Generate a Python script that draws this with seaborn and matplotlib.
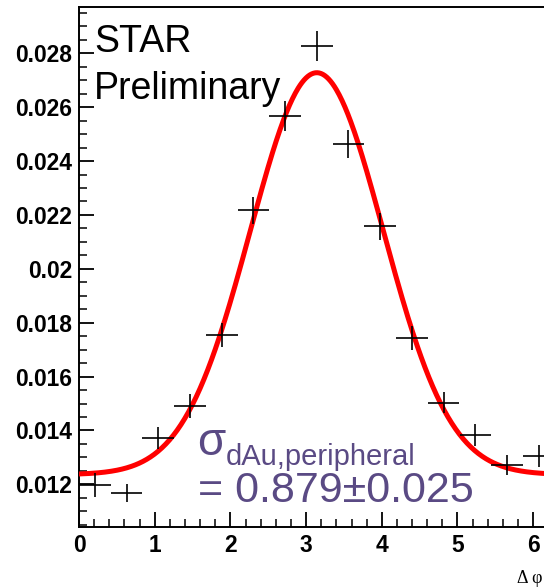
import numpy as np
import pandas as pd
import matplotlib
matplotlib.use("Agg")
import matplotlib.pyplot as plt
import seaborn as sns
from matplotlib.ticker import MultipleLocator, FixedLocator, FuncFormatter

# ---- data ----
dphi = [0.209, 0.628, 1.047, 1.466, 1.885, 2.304, 2.723, 3.142,
        3.560, 3.979, 4.398, 4.817, 5.236, 5.655, 6.074]
yield_vals = [0.01198, 0.01167, 0.01371, 0.01491, 0.01754, 0.02218, 0.02568, 0.02827,
              0.02463, 0.02158, 0.01742, 0.01503, 0.01383, 0.01272, 0.01305]
yield_err = [0.00045, 0.00033, 0.00040, 0.00043, 0.00045, 0.00050, 0.00056, 0.00056,
             0.00052, 0.00050, 0.00045, 0.00040, 0.00040, 0.00037, 0.00040]
bin_half_width = 0.2094

# Gaussian + constant fit parameters
fit_const = 0.01236
fit_amp = 0.01492
fit_mean = 3.1416
fit_sigma = 0.879
fit_sigma_err = 0.025

y_ticks = [0.012, 0.014, 0.016, 0.018, 0.020, 0.022, 0.024, 0.026, 0.028]
y_tick_labels = ["0.012", "0.014", "0.016", "0.018", "0.02", "0.022", "0.024", "0.026", "0.028"]
x_ticks = [0, 1, 2, 3, 4, 5, 6]

sns.set_style("ticks")
plt.rcParams['font.family'] = ['Liberation Sans', 'DejaVu Sans']

fig = plt.figure(figsize=(5.44, 5.88), dpi=100)
ax = fig.add_axes([79 / 544, 61 / 588, 1 - 79 / 544, (527 - 7) / 588])

# fit curve
xs = np.linspace(0, 2 * np.pi, 500)
fit_df = pd.DataFrame({
    "x": xs,
    "y": fit_const + fit_amp * np.exp(-(xs - fit_mean) ** 2 / (2 * fit_sigma ** 2)),
})
sns.lineplot(data=fit_df, x="x", y="y", ax=ax, color="#ff0000", linewidth=3.6, zorder=3)

# data points as crosses (bin width + stat error)
pts = pd.DataFrame({"x": dphi, "y": yield_vals, "e": yield_err})
ax.errorbar(pts["x"], pts["y"], xerr=bin_half_width, yerr=pts["e"], fmt="none",
            ecolor="black", elinewidth=1.2, capsize=0, zorder=4)

ax.set_xlim(0, (544 - 79) / 75.7)
ax.set_ylim(0.010416, 0.029719)
ax.set_xlabel("")
ax.set_ylabel("")

ax.xaxis.set_major_locator(FixedLocator(x_ticks))
ax.xaxis.set_minor_locator(MultipleLocator(0.2))
ax.yaxis.set_major_locator(FixedLocator(y_ticks))
ax.yaxis.set_minor_locator(MultipleLocator(0.0005))
ax.set_yticklabels(y_tick_labels)
ax.set_xticklabels([str(v) for v in x_ticks])

ax.tick_params(which="major", direction="in", length=11, width=1.3, colors="black",
               labelsize=16.4, pad=5, top=False, right=False)
ax.tick_params(which="minor", direction="in", length=5.5, width=1.3, top=False, right=False)
for lab in ax.get_xticklabels() + ax.get_yticklabels():
    lab.set_fontweight("bold")

for side in ["left", "bottom", "top"]:
    ax.spines[side].set_visible(True)
    ax.spines[side].set_linewidth(1.4)
    ax.spines[side].set_color("black")
ax.spines["right"].set_visible(False)

# annotations
fig.text(94 / 544, (588 - 52) / 588, "STAR", fontsize=27, color="black", va="baseline")
fig.text(94 / 544, (588 - 99) / 588, "Preliminary", fontsize=27, color="black", va="baseline")

purple = "#5a4a84"
fig.text(197 / 544, (588 - 455) / 588, "σ", fontsize=33, color=purple, va="baseline")
fig.text(226 / 544, (588 - 465) / 588, "dAu,peripheral", fontsize=21, color=purple, va="baseline")
fig.text(198 / 544, (588 - 502) / 588, f"= {fit_sigma:.3f}±{fit_sigma_err:.3f}",
         fontsize=31, color=purple, va="baseline")

fig.text(517 / 544, (588 - 583) / 588, "Δ φ", fontsize=13, color="black", va="baseline",
         family=["Liberation Serif", "DejaVu Serif"])

fig.savefig("out.png", dpi=100)
